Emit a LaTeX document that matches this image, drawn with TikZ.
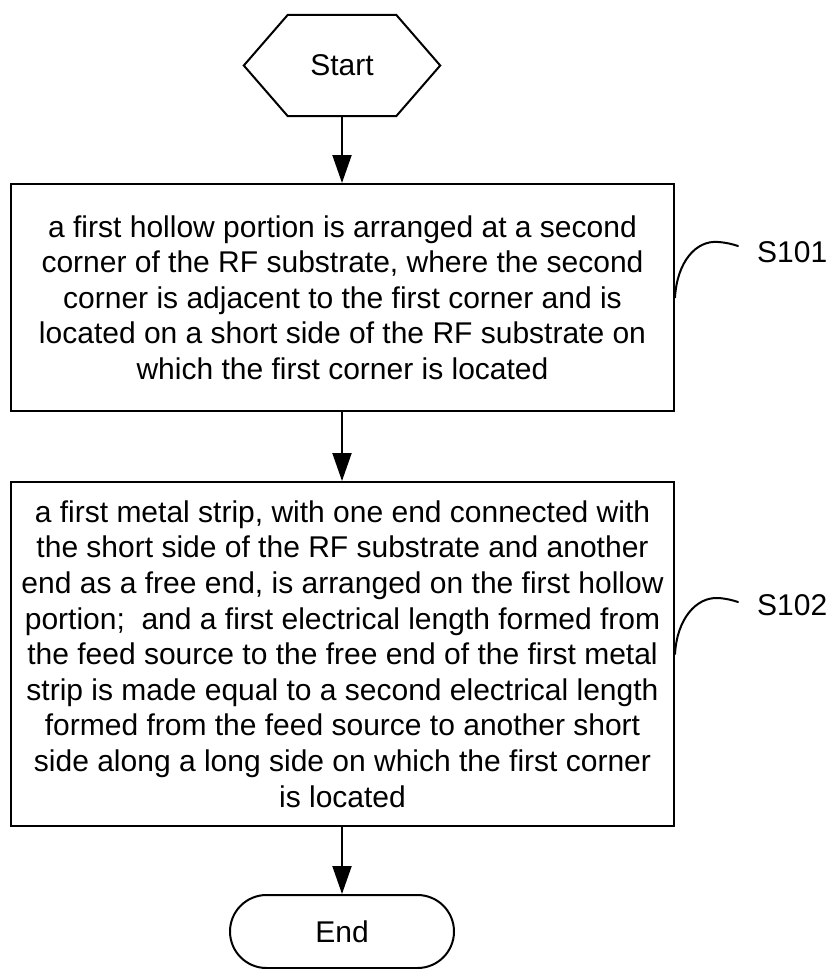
\documentclass[tikz,border=0pt]{standalone}
\usepackage{fontspec}
\setmainfont{Liberation Sans}
\usetikzlibrary{arrows.meta,shapes.misc}
\begin{document}
\begin{tikzpicture}[x=1pt,y=1pt,
  every node/.style={font=\fontsize{30}{35.6}\selectfont},
  stepbox/.style={draw, line width=2pt, minimum width=663pt, align=center, inner sep=0pt},
  termbox/.style={draw, line width=2pt, rounded rectangle, minimum width=224pt, minimum height=73pt, inner sep=0pt},
  flow/.style={line width=2pt, -{Triangle[length=28pt,width=19pt]}},
  lab/.style={line width=2pt, line cap=round},
  labtext/.style={anchor=west, inner sep=0pt}]
\useasboundingbox (0,0) rectangle (831,-969);
% start hexagon
\node[minimum width=196pt, minimum height=101pt, inner sep=0pt] (start) at (342,-65.5) {Start};
\draw[line width=2pt, line join=miter]
  ([xshift=44pt]start.north west) -- ([xshift=-44pt]start.north east)
  -- (start.east) -- ([xshift=-44pt]start.south east) -- ([xshift=44pt]start.south west)
  -- (start.west) -- cycle;
% step boxes
\node[stepbox, minimum height=227pt] (b1) at (342.5,-297.5)
 {a first hollow portion is arranged at a second\\
  corner of the RF substrate, where the second\\
  corner is adjacent to the first corner and is\\
  located on a short side of the RF substrate on\\
  which the first corner is located};
\node[stepbox, minimum height=344pt] (b2) at (342.5,-654)
 {a first metal strip, with one end connected with\\
  the short side of the RF substrate and another\\
  end as a free end, is arranged on the first hollow\\
  portion;\ \ and a first electrical length formed from\\
  the feed source to the free end of the first metal\\
  strip is made equal to a second electrical length\\
  formed from the feed source to another short\\
  side along a long side on which the first corner\\
  is located};
% end terminal
\node[termbox] (end) at (342,-931.5) {End};
% arrows
\draw[flow] (start.south) -- (b1.north -| start.south);
\draw[flow] (b1.south -| start.south) -- (b2.north -| start.south);
\draw[flow] (b2.south -| start.south) -- (end.north);
% labels
\node[labtext] (l1) at (757,-252) {S101};
\node[labtext] (l2) at (757,-605) {S102};
\coordinate (c1) at (738,-246);
\coordinate (c2) at (738,-602);
\draw[lab] (b1.east) .. controls (677,-262) and (696,-240) .. (718,-242) .. controls (726,-242.5) and (732,-244) .. (c1);
\draw[lab] (b2.east) .. controls (677,-619) and (696,-597) .. (718,-598) .. controls (726,-598.5) and (732,-600) .. (c2);
\end{tikzpicture}
\end{document}
